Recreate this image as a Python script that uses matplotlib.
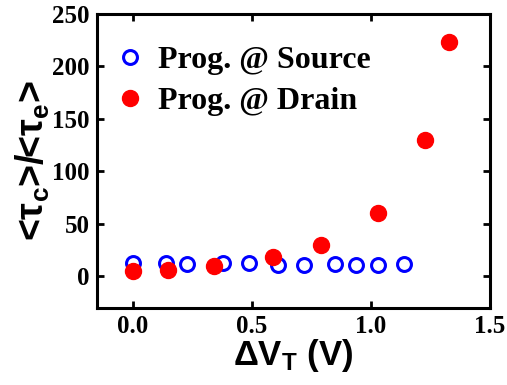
import matplotlib
matplotlib.use('Agg')
import matplotlib.pyplot as plt

# data
src_dvt = [0.0, 0.14, 0.23, 0.38, 0.49, 0.61, 0.72, 0.85, 0.94, 1.03, 1.14]
src_ratio = [12.5, 12.5, 11.5, 12.5, 13.1, 10.6, 10.6, 11.5, 10.6, 10.6, 11.5]
drn_dvt = [0.0, 0.15, 0.34, 0.59, 0.79, 1.03, 1.23, 1.33]
drn_ratio = [5.1, 5.7, 9.9, 18.5, 30.1, 60.2, 129.5, 223.0]
xticks = [0.0, 0.5, 1.0, 1.5]
yticks = [0, 50, 100, 150, 200, 250]

plt.rcParams['mathtext.fontset'] = 'custom'
plt.rcParams['mathtext.rm'] = 'Liberation Sans:bold'
plt.rcParams['mathtext.bf'] = 'Liberation Sans:bold'
plt.rcParams['mathtext.it'] = 'Liberation Sans:bold'
plt.rcParams['mathtext.default'] = 'bf'

fig = plt.figure(figsize=(5.07, 3.85), dpi=100)
ax = fig.add_axes([0.191, 0.2, 0.775, 0.764])

ax.plot(src_dvt, src_ratio, 'o', mfc='none', mec='blue', mew=2.2, ms=10,
        label='Prog. @ Source')
ax.plot(drn_dvt, drn_ratio, 'o', mfc='red', mec='red', ms=11.5,
        label='Prog. @ Drain')

ax.set_xlim(-0.15, 1.5)
ax.set_ylim(-30, 250)
ax.set_xticks(xticks)
ax.set_yticks(yticks)
ax.set_xticklabels(['%.1f' % v for v in xticks], family='Liberation Serif',
                   weight='bold', fontsize=18)
ax.set_yticklabels([str(v) for v in yticks], family='Liberation Serif',
                   weight='bold', fontsize=18)
ax.tick_params(direction='in', top=True, right=True, length=5, width=2, pad=5)
for s in ax.spines.values():
    s.set_linewidth(2.2)

ax.set_xlabel(r'$\Delta$V$_T$ (V)', family='Liberation Sans', weight='bold',
              fontsize=25, labelpad=-1)
ax.set_ylabel(r'<$\tau_c$>/<$\tau_e$>', family='Liberation Sans',
              weight='bold', fontsize=27, labelpad=0)

ax.legend(loc='upper left', bbox_to_anchor=(0.004, 0.934), frameon=False,
          handletextpad=0.25, borderaxespad=0, labelspacing=0.35,
          handlelength=1.2,
          prop={'family': 'Liberation Serif', 'weight': 'bold', 'size': 23})

plt.savefig('out.png', dpi=100)
